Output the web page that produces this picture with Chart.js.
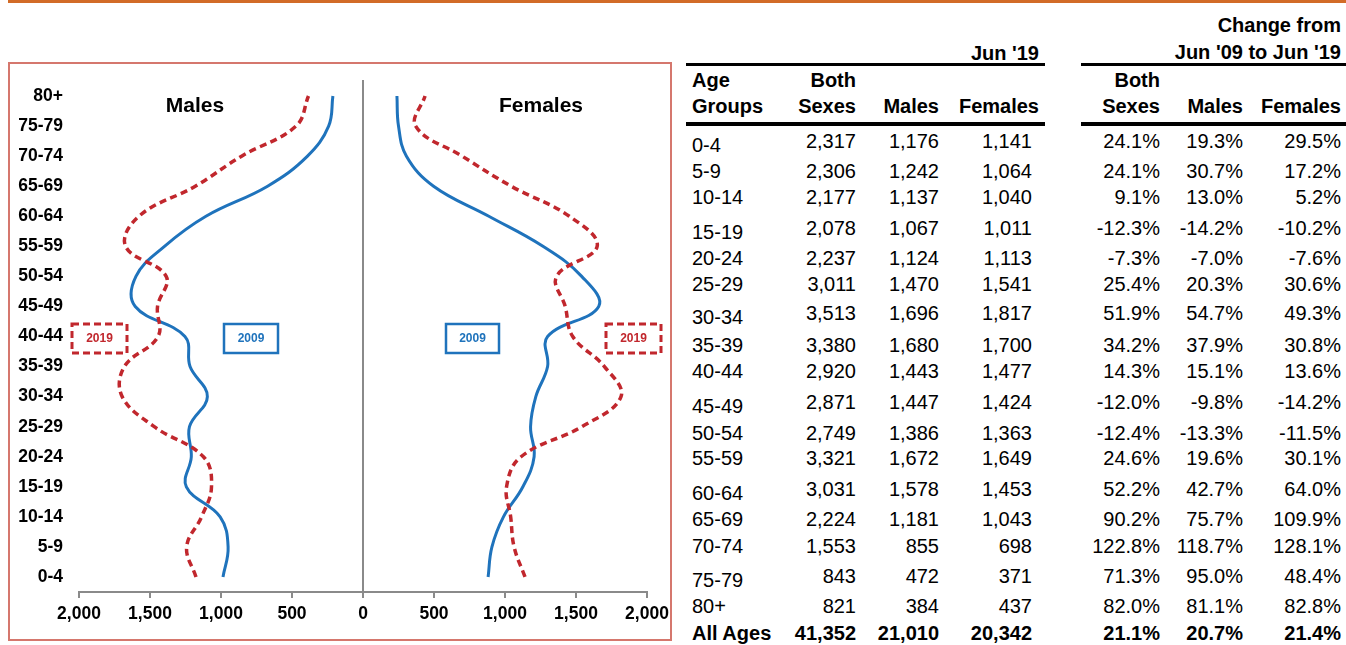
<!DOCTYPE html>
<html>
<head>
<meta charset="utf-8">
<title>Population by age group</title>
<script src="https://cdn.jsdelivr.net/npm/chart.js@4.4.1/dist/chart.umd.min.js"></script>
<style>
body { margin: 0; background: #fff; font-family: "Liberation Sans", Arial, sans-serif; }
#page { position: relative; width: 1346px; height: 645px; overflow: hidden; }
#topbar { position: absolute; left: 8px; top: 0; width: 1338px; height: 3px; background: #D26B27; }
#frame { position: absolute; left: 8px; top: 62px; width: 664px; height: 579px; border: 2px solid #D5776D; box-sizing: border-box; }
canvas { position: absolute; top: 0; }
#maleChart { left: 8px; }
#femaleChart { left: 340px; }
.t { position: absolute; font-size: 20px; line-height: 20px; color: #000; white-space: nowrap; }
.b { font-weight: bold; }
.rule { position: absolute; background: #000; }
</style>
</head>
<body>
<div id="page">
  <div id="topbar"></div>
  <div id="frame"></div>
  <canvas id="maleChart" width="372" height="645"></canvas>
  <canvas id="femaleChart" width="340" height="645"></canvas>
</div>
<script>
const ageGroups = ["0-4", "5-9", "10-14", "15-19", "20-24", "25-29", "30-34", "35-39", "40-44",
    "45-49", "50-54", "55-59", "60-64", "65-69", "70-74", "75-79", "80+"];

const males2009 = [986, 950, 1006, 1244, 1209, 1222, 1096, 1218, 1254, 1604, 1599, 1398, 1106, 672, 391, 242, 212];
const females2009 = [881, 908, 989, 1126, 1205, 1180, 1217, 1300, 1300, 1660, 1540, 1267, 886, 497, 306, 250, 239];
const males2019 = [1176, 1242, 1137, 1067, 1124, 1470, 1696, 1680, 1443, 1447, 1386, 1672, 1578, 1181, 855, 472, 384];
const females2019 = [1141, 1064, 1040, 1011, 1113, 1541, 1817, 1700, 1477, 1424, 1363, 1649, 1453, 1043, 698, 371, 437];
const both2019 = [2317, 2306, 2177, 2078, 2237, 3011, 3513, 3380, 2920, 2871, 2749, 3321, 3031, 2224, 1553, 843, 821];
const totals2019 = [41352, 21010, 20342];

// % change Jun '09 to Jun '19
const chgBoth = [24.1, 24.1, 9.1, -12.3, -7.3, 25.4, 51.9, 34.2, 14.3, -12.0, -12.4, 24.6, 52.2, 90.2, 122.8, 71.3, 82.0];
const chgMales = [19.3, 30.7, 13.0, -14.2, -7.0, 20.3, 54.7, 37.9, 15.1, -9.8, -13.3, 19.6, 42.7, 75.7, 118.7, 95.0, 81.1];
const chgFemales = [29.5, 17.2, 5.2, -10.2, -7.6, 30.6, 49.3, 30.8, 13.6, -14.2, -11.5, 30.1, 64.0, 109.9, 128.1, 48.4, 82.8];
const chgTotals = [21.1, 20.7, 21.4];

const xTicks = [0, 500, 1000, 1500, 2000];

const BLUE = "#1F73BC";
const RED = "#C1272D";
const AXIS = "#8A8A8A";
const FONT = '"Liberation Sans", Arial, sans-serif';

function toNum(v) {
    return Number(v).toLocaleString("en-US");
}

function toPct(v) {
    return `${v.toFixed(1)}%`;
}

// titles and the little 2009 / 2019 key boxes
const decorations = {
    id: "decorations",
    afterDraw(chart, args, opts) {
        let ctx = chart.ctx;
        ctx.save();
        ctx.fillStyle = "#000";
        ctx.textAlign = "center";
        ctx.textBaseline = "middle";
        ctx.font = `bold 21px ${FONT}`;
        ctx.fillText(opts.title, opts.titleX, 106);

        opts.keys.forEach(k => {
            ctx.strokeStyle = k.color;
            ctx.lineWidth = k.dashed ? 3 : 2.5;
            ctx.setLineDash(k.dashed ? [7, 4] : []);
            ctx.strokeRect(k.x, 324, k.w, 29);
            ctx.setLineDash([]);
            ctx.fillStyle = k.color;
            ctx.font = `bold 12px ${FONT}`;
            ctx.fillText(k.text, k.x + k.w / 2, 339);
        });
        ctx.restore();
    }
};

function drawSide(id, data2009, data2019, isMale, deco) {
    let ctx = document.getElementById(id).getContext("2d");
    return new Chart(ctx, {
        type: "line",
        data: {
            labels: ageGroups,
            datasets: [
                {
                    label: "2019",
                    data: data2019,
                    borderColor: RED,
                    borderWidth: 3.5,
                    borderDash: [7, 4.5],
                    tension: 0.4,
                    pointRadius: 0
                },
                {
                    label: "2009",
                    data: data2009,
                    borderColor: BLUE,
                    borderWidth: 3,
                    tension: 0.4,
                    pointRadius: 0
                }
            ]
        },
        options: {
            indexAxis: "y",
            responsive: false,
            animation: false,
            layout: {
                padding: isMale ? {top: 81, right: 17, left: 0, bottom: 0} : {top: 81, right: 33, left: 23, bottom: 0}
            },
            plugins: {
                legend: {display: false},
                tooltip: {enabled: false},
                decorations: deco
            },
            scales: {
                x: {
                    reverse: isMale,
                    min: 0,
                    max: 2000,
                    afterBuildTicks: s => { s.ticks = xTicks.map(v => ({value: v})); },
                    afterFit: s => { s.height = 53; },
                    ticks: {
                        color: "#000",
                        font: {family: FONT, size: 17.5, weight: "bold"},
                        padding: 6,
                        maxRotation: 0,
                        callback: v => (isMale && v === 0) ? "" : toNum(v)
                    },
                    grid: {drawOnChartArea: false, tickLength: 6, color: AXIS, lineWidth: 2},
                    border: {color: AXIS, width: 2}
                },
                y: {
                    reverse: true,
                    offset: true,
                    afterFit: s => { s.width = isMale ? 71 : 0; },
                    ticks: {
                        display: isMale,
                        color: "#000",
                        font: {family: FONT, size: 17.5, weight: "bold"},
                        padding: 16
                    },
                    grid: {display: false, drawTicks: false},
                    border: {display: !isMale, color: AXIS, width: 2}
                }
            }
        },
        plugins: [decorations]
    });
}

drawSide("maleChart", males2009, males2019, true, {
    title: "Males",
    titleX: 187,
    keys: [
        {text: "2019", color: RED, dashed: true, x: 64, w: 55},
        {text: "2009", color: BLUE, dashed: false, x: 216, w: 54}
    ]
});

drawSide("femaleChart", females2009, females2019, false, {
    title: "Females",
    titleX: 201,
    keys: [
        {text: "2009", color: BLUE, dashed: false, x: 106, w: 53},
        {text: "2019", color: RED, dashed: true, x: 266, w: 55}
    ]
});

// ---- table on the right ----
let page = document.getElementById("page");

function txt(s, x, y, align, bold) {
    let d = document.createElement("div");
    d.className = "t" + (bold ? " b" : "");
    d.textContent = s;
    d.style.top = (y - 10) + "px";
    if (align === "right") d.style.right = (1346 - x) + "px";
    else d.style.left = x + "px";
    page.appendChild(d);
}

function rule(x, y, w, h) {
    let d = document.createElement("div");
    d.className = "rule";
    d.style.left = x + "px";
    d.style.top = y + "px";
    d.style.width = w + "px";
    d.style.height = h + "px";
    page.appendChild(d);
}

// layout of the table (pixels)
const rowY = [141, 171, 197, 228, 258, 284, 313, 345, 371, 402, 433, 458, 489, 519, 546, 576, 606];
const totalY = 633;
const colRight = {both: 856, males: 939, females: 1032, cBoth: 1160, cMales: 1243, cFemales: 1341};

txt("Jun '19", 1039, 53, "right", true);
txt("Change from", 1341, 25, "right", true);
txt("Jun '09 to Jun '19", 1341, 52, "right", true);
rule(686, 63, 359, 3);
rule(1081, 63, 265, 3);
txt("Age", 692, 80, "left", true);
txt("Groups", 692, 106, "left", true);
txt("Both", 856, 80, "right", true);
txt("Sexes", 856, 106, "right", true);
txt("Males", 939, 106, "right", true);
txt("Females", 1039, 106, "right", true);
txt("Both", 1160, 80, "right", true);
txt("Sexes", 1160, 106, "right", true);
txt("Males", 1243, 106, "right", true);
txt("Females", 1341, 106, "right", true);
rule(686, 122, 359, 4);
rule(1081, 122, 265, 4);

ageGroups.forEach((g, i) => {
    let y = rowY[i];
    txt(g, 692, y + (i % 3 === 0 ? 4 : 0), "left", false);
    txt(toNum(both2019[i]), colRight.both, y, "right", false);
    txt(toNum(males2019[i]), colRight.males, y, "right", false);
    txt(toNum(females2019[i]), colRight.females, y, "right", false);
    txt(toPct(chgBoth[i]), colRight.cBoth, y, "right", false);
    txt(toPct(chgMales[i]), colRight.cMales, y, "right", false);
    txt(toPct(chgFemales[i]), colRight.cFemales, y, "right", false);
});

txt("All Ages", 692, totalY, "left", true);
txt(toNum(totals2019[0]), colRight.both, totalY, "right", true);
txt(toNum(totals2019[1]), colRight.males, totalY, "right", true);
txt(toNum(totals2019[2]), colRight.females, totalY, "right", true);
txt(toPct(chgTotals[0]), colRight.cBoth, totalY, "right", true);
txt(toPct(chgTotals[1]), colRight.cMales, totalY, "right", true);
txt(toPct(chgTotals[2]), colRight.cFemales, totalY, "right", true);
</script>
</body>
</html>
